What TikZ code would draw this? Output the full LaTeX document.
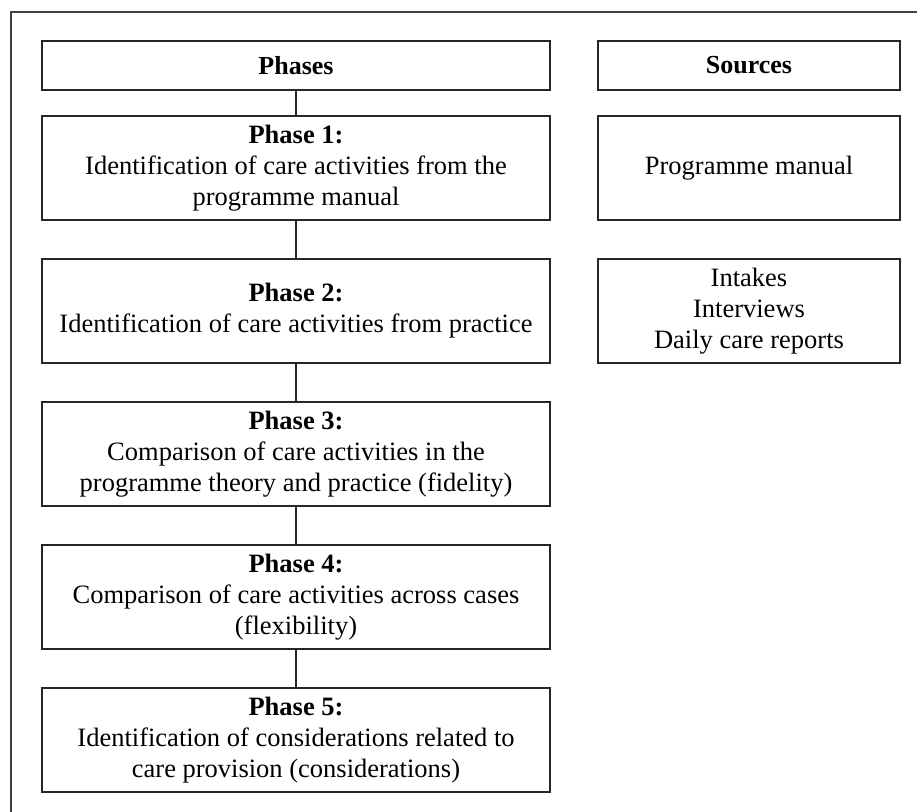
\documentclass[tikz,border=0pt]{standalone}
\usepackage{fontspec}
\setmainfont{Liberation Serif}
\begin{document}
\begin{tikzpicture}[x=1pt,y=-1pt,
  box/.style={draw=black!85,line width=1.3pt,fill=white,minimum height=104pt,inner sep=0pt,align=center,font=\fontsize{26.5}{31}\selectfont},
  phasebox/.style={box,minimum width=508pt},
  srcbox/.style={box,minimum width=302pt},
  headbox/.style={box,minimum height=49pt,font=\fontsize{26}{31}\selectfont\bfseries},
  link/.style={draw=black!85,line width=1.3pt}]
\useasboundingbox (0,0) rectangle (917,811);
\clip (0,0) rectangle (917,811);
\draw[draw=black!75,line width=2pt] (11,12) rectangle (940,840);
\node[headbox,minimum width=508pt] (ph) at (296,65.5) {Phases};
\node[headbox,minimum width=302pt] (so) at (749,65.5) {Sources};
\node[phasebox] (p1) at (296,168) {\textbf{Phase 1:}\\Identification of care activities from the\\programme manual};
\node[phasebox] (p2) at (296,311) {\textbf{Phase 2:}\\Identification of care activities from practice};
\node[phasebox] (p3) at (296,454) {\textbf{Phase 3:}\\Comparison of care activities in the\\programme theory and practice (fidelity)};
\node[phasebox] (p4) at (296,597) {\textbf{Phase 4:}\\Comparison of care activities across cases\\(flexibility)};
\node[phasebox] (p5) at (296,740) {\textbf{Phase 5:}\\Identification of considerations related to\\care provision (considerations)};
\node[srcbox] (s1) at (749,168) {Programme manual};
\node[srcbox] (s2) at (749,311) {Intakes\\Interviews\\Daily care reports};
\draw[link] (ph) -- (p1);
\draw[link] (p1) -- (p2);
\draw[link] (p2) -- (p3);
\draw[link] (p3) -- (p4);
\draw[link] (p4) -- (p5);
\end{tikzpicture}
\end{document}
